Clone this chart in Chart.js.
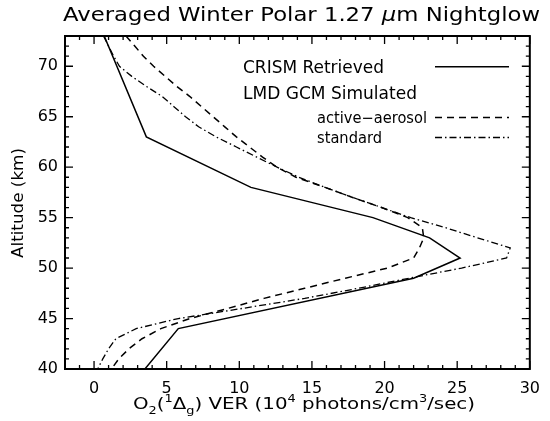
<!DOCTYPE html>
<html><head><meta charset="utf-8">
<script src="https://cdn.jsdelivr.net/npm/chart.js@4"></script>
<style>html,body{margin:0;padding:0;background:#fff}#wrap{width:550px;height:421px}</style>
</head><body><div id="wrap"><canvas id="c" width="550" height="421"></canvas></div>
<script>
// ---- data (altitude in km, VER in 10^4 photons/cm^3/sec) ----
const crismAlt = [73, 63, 58, 55, 53, 51, 49, 44, 40];
const crismVer = [0.7, 3.6, 10.8, 19.2, 23.1, 25.2, 22.0, 5.8, 3.5];

const aerosolAlt = [73,72,71,70,69,68,67,66,65,64,63,62,61,60,59,58,57,56,55,54,53,52,51,50,49,48,47,46,45,44,43,42,41,40];
const aerosolVer = [2.2,2.8,3.4,4.1,4.9,5.7,6.6,7.4,8.2,9.0,9.8,10.7,11.6,12.6,13.9,15.9,17.8,19.8,21.6,22.6,22.7,22.4,22.0,20.2,17.3,14.5,11.7,9.2,6.6,4.6,3.3,2.4,1.7,1.2];

const standardAlt = [73,72,71,70,69,68,67,66,65,64,63,62,61,60,59,58,57,56,55,54,53,52,51,50,49,48,47,46,45,44,43,42,41,40];
const standardVer = [0.65,1.0,1.35,1.75,2.6,3.6,4.7,5.5,6.3,7.2,8.4,9.8,11.2,12.6,14.1,15.9,17.8,19.8,21.8,24.2,26.4,28.65,28.4,25.3,21.7,18.2,14.5,10.2,5.8,2.9,1.5,1.0,0.6,0.25];

const xTicks = [0, 5, 10, 15, 20, 25, 30];
const yTicks = [40, 45, 50, 55, 60, 65, 70];
const xRange = [-2, 30];
const yRange = [40, 73];

const legendNames = ['CRISM Retrieved', 'LMD GCM Simulated', 'active\u2212aerosol', 'standard'];
const FAM = '"DejaVu Sans", sans-serif';

const dashAerosol = [7, 5];
const dashStandard = [7, 3, 1.5, 3];

function drawRich(ctx, segs, cx, baseY, targetW, base) {
  let w = 0;
  const items = segs.map(s => {
    const size = base * (s.scale || 1);
    const font = (s.italic ? 'italic ' : '') + size + 'px ' + FAM;
    ctx.font = font;
    const m = ctx.measureText(s.t).width;
    w += m;
    return Object.assign({}, s, {font: font, w: m});
  });
  const k = targetW ? targetW / w : 1;
  ctx.save();
  ctx.translate(cx - (w * k) / 2, baseY);
  ctx.scale(k, 1);
  ctx.textBaseline = 'alphabetic';
  ctx.textAlign = 'left';
  ctx.fillStyle = '#000';
  let xx = 0;
  items.forEach(it => {
    ctx.font = it.font;
    ctx.fillText(it.t, xx, (it.dy || 0) * base);
    xx += it.w;
  });
  ctx.restore();
}
function drawLeft(ctx, text, x, baseY, targetW, size) {
  ctx.save();
  ctx.font = size + 'px ' + FAM;
  const w = ctx.measureText(text).width;
  ctx.translate(x, baseY);
  ctx.scale(targetW / w, 1);
  ctx.textBaseline = 'alphabetic';
  ctx.textAlign = 'left';
  ctx.fillStyle = '#000';
  ctx.fillText(text, 0, 0);
  ctx.restore();
}

const framePlugin = {
  id: 'frame',
  afterDatasetsDraw(chart) {
    const {ctx, chartArea: a, scales: {x, y}} = chart;
    ctx.save();
    ctx.strokeStyle = '#000';
    ctx.setLineDash([]);
    ctx.lineWidth = 2;
    ctx.strokeRect(a.left, a.top, a.right - a.left, a.bottom - a.top);
    ctx.lineWidth = 1.3;
    ctx.beginPath();
    for (let v = Math.ceil(x.min); v <= x.max; v += 1) {
      const px = x.getPixelForValue(v);
      const len = (v % 5 === 0) ? 8 : 4;
      ctx.moveTo(px, a.bottom); ctx.lineTo(px, a.bottom - len);
      ctx.moveTo(px, a.top); ctx.lineTo(px, a.top + len);
    }
    for (let v = Math.ceil(y.min); v <= y.max; v += 1) {
      const py = y.getPixelForValue(v);
      const len = (v % 5 === 0) ? 8 : 4;
      ctx.moveTo(a.left, py); ctx.lineTo(a.left + len, py);
      ctx.moveTo(a.right, py); ctx.lineTo(a.right - len, py);
    }
    ctx.stroke();
    ctx.restore();
  },
  afterDraw(chart) {
    const ctx = chart.ctx;
    // title
    drawRich(ctx, [
      {t: 'Averaged Winter Polar 1.27 '},
      {t: '\u03bc', italic: true},
      {t: 'm Nightglow'}
    ], 301.5, 20.5, 477, 19);
    // x axis title
    drawRich(ctx, [
      {t: 'O'}, {t: '2', scale: 0.65, dy: 0.3},
      {t: '('}, {t: '1', scale: 0.65, dy: -0.45},
      {t: '\u0394'}, {t: 'g', scale: 0.65, dy: 0.3},
      {t: ') VER (10'}, {t: '4', scale: 0.65, dy: -0.45},
      {t: ' photons/cm'}, {t: '3', scale: 0.65, dy: -0.45},
      {t: '/sec)'}
    ], 304, 409, 342, 16);
    // y axis title
    ctx.save();
    ctx.translate(23, 203);
    ctx.rotate(-Math.PI / 2);
    drawRich(ctx, [{t: 'Altitude (km)'}], 0, 0, 110, 16);
    ctx.restore();
    // legend
    drawLeft(ctx, legendNames[0], 243, 73, 141, 17);
    drawLeft(ctx, legendNames[1], 243, 98.5, 174, 17);
    drawLeft(ctx, legendNames[2], 317, 122.5, 110, 15);
    drawLeft(ctx, legendNames[3], 317, 143, 65, 15);
    ctx.save();
    ctx.strokeStyle = '#000';
    ctx.lineWidth = 1.5;
    const lines = [[66.7, []], [117.5, dashAerosol], [137.5, dashStandard]];
    lines.forEach(([ly, d]) => {
      ctx.setLineDash(d);
      ctx.beginPath(); ctx.moveTo(435, ly); ctx.lineTo(509, ly); ctx.stroke();
    });
    ctx.restore();
  }
};

const toPts = (alt, ver) => alt.map((a, i) => ({x: ver[i], y: a}));

new Chart(document.getElementById('c'), {
  type: 'scatter',
  data: {
    datasets: [
      {label: legendNames[0], data: toPts(crismAlt, crismVer), showLine: true, borderColor: '#000', borderWidth: 1.5, pointRadius: 0, fill: false},
      {label: legendNames[2], data: toPts(aerosolAlt, aerosolVer), showLine: true, borderColor: '#000', borderWidth: 1.5, pointRadius: 0, fill: false, borderDash: dashAerosol},
      {label: legendNames[3], data: toPts(standardAlt, standardVer), showLine: true, borderColor: '#000', borderWidth: 1.3, pointRadius: 0, fill: false, borderDash: dashStandard}
    ]
  },
  options: {
    responsive: false,
    animation: false,
    devicePixelRatio: 1,
    layout: {padding: {top: 36, right: 11, left: 0, bottom: 0}},
    plugins: {legend: {display: false}, tooltip: {enabled: false}, title: {display: false}},
    scales: {
      x: {
        type: 'linear', position: 'bottom', min: xRange[0], max: xRange[1],
        grid: {display: false, drawTicks: false}, border: {display: false},
        ticks: {font: {family: FAM, size: 16}, color: '#000', padding: 10, maxRotation: 0, autoSkip: false},
        afterBuildTicks: s => { s.ticks = xTicks.map(v => ({value: v})); },
        afterFit: s => { s.height = 52; }
      },
      y: {
        type: 'linear', position: 'left', min: yRange[0], max: yRange[1],
        grid: {display: false, drawTicks: false}, border: {display: false},
        ticks: {font: {family: FAM, size: 16}, color: '#000', padding: 7, autoSkip: false},
        afterBuildTicks: s => { s.ticks = yTicks.map(v => ({value: v})); },
        afterFit: s => { s.width = 65; }
      }
    }
  },
  plugins: [framePlugin]
});
</script>
</body></html>
